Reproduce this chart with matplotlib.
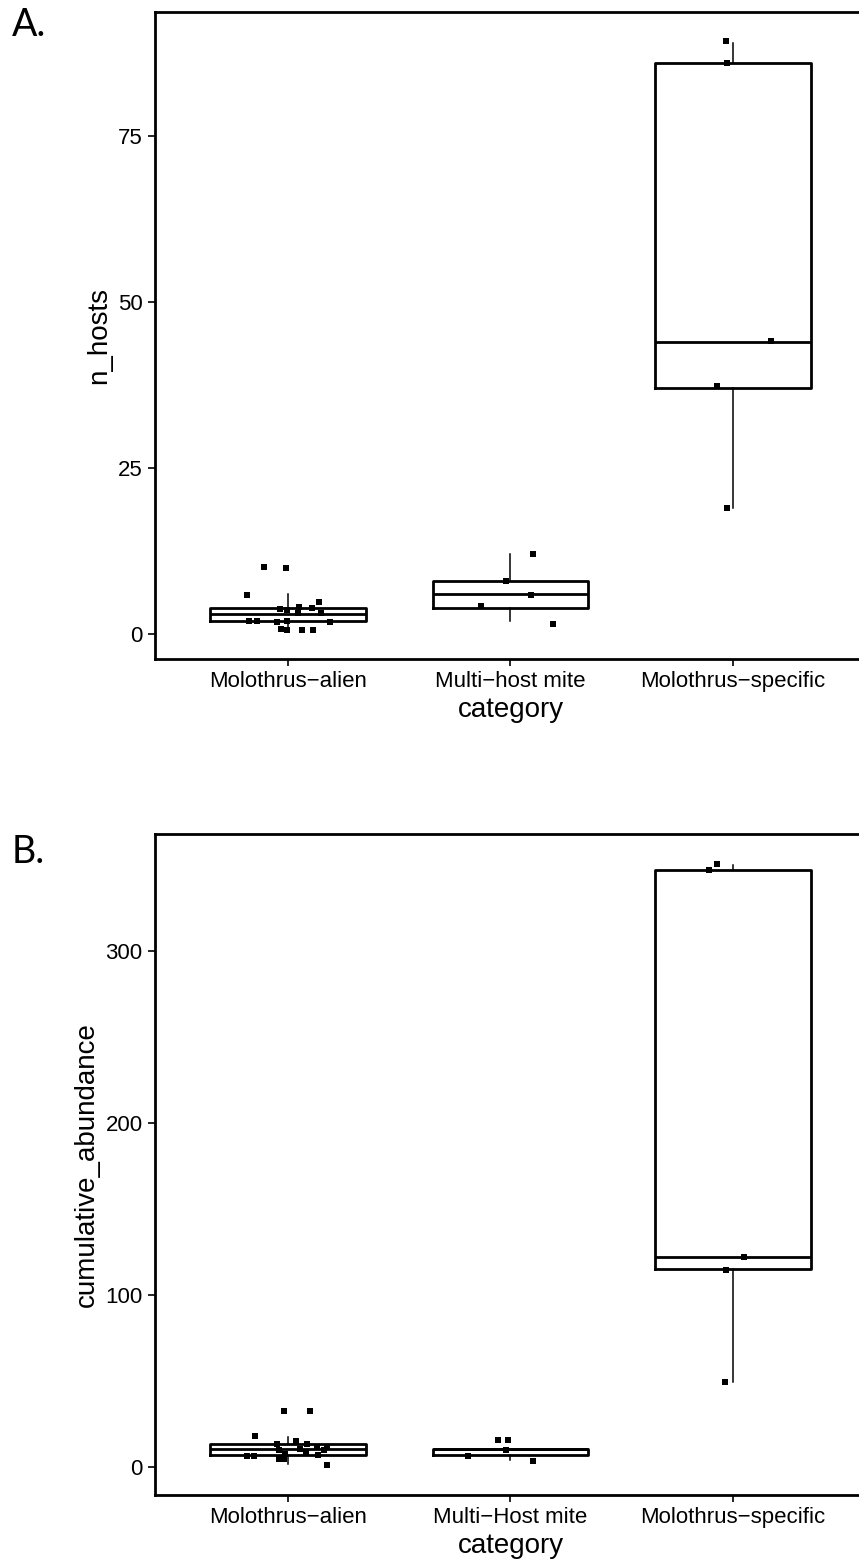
import matplotlib
matplotlib.use("Agg")
import matplotlib.pyplot as plt
import numpy as np

plt.rcParams['font.family'] = ['Liberation Sans', 'DejaVu Sans']

# category names (R draws the hyphen as a minus sign)
categories_a = ['Molothrus\u2212alien', 'Multi\u2212host mite', 'Molothrus\u2212specific']
categories_b = ['Molothrus\u2212alien', 'Multi\u2212Host mite', 'Molothrus\u2212specific']

# panel A: n_hosts, jittered points (value, horizontal jitter)
hosts_alien = [10.1, 9.9, 5.9, 3.8, 3.6, 4.1, 3.2, 3.9, 4.8, 3.2, 2.0, 2.0, 1.8, 2.0, 1.85, 0.86, 0.7, 0.7, 0.7]
hosts_alien_jit = [-0.108, -0.008, -0.186, -0.036, -0.003, 0.049, 0.044, 0.106, 0.139, 0.148,
                   -0.174, -0.14, -0.05, -0.003, 0.189, -0.03, -0.003, 0.064, 0.111]
hosts_multi = [12.1, 8.0, 5.9, 4.3, 1.6]
hosts_multi_jit = [0.1, -0.02, 0.092, -0.134, 0.19]
hosts_spec = [89.2, 85.9, 44.1, 37.3, 19.0]
hosts_spec_jit = [-0.033, -0.027, 0.173, -0.074, -0.027]

# panel A box statistics
hosts_whislo = [1, 2, 19]
hosts_q1 = [2, 4, 37]
hosts_med = [3, 6, 44]
hosts_q3 = [4, 8, 86]
hosts_whishi = [6, 12, 89]

# panel B: cumulative_abundance
abund_alien = [32.5, 32.5, 17.8, 13.2, 15.1, 13.4, 11.4, 11.4, 9.9, 10.3, 8.7, 9.5, 6.4, 6.4, 7.6, 6.8, 4.5, 4.6, 1.0]
abund_alien_jit = [-0.018, 0.099, -0.147, -0.048, 0.037, 0.087, 0.129, 0.177, -0.042, 0.054,
                   0.08, 0.16, -0.186, -0.153, -0.015, 0.137, -0.042, -0.018, 0.177]
abund_multi = [15.5, 15.5, 9.7, 6.4, 3.5]
abund_multi_jit = [-0.056, -0.013, -0.02, -0.192, 0.1]
abund_spec = [350.3, 346.8, 121.6, 114.5, 49.0]
abund_spec_jit = [-0.073, -0.109, 0.049, -0.03, -0.037]

# panel B box statistics
abund_whislo = [1.5, 4, 49]
abund_q1 = [6.5, 7, 115]
abund_med = [10, 10, 122]
abund_q3 = [13, 10, 347]
abund_whishi = [17.5, 10, 350]


def draw_panel(ax, cats, groups, jitters, whislo, q1, med, q3, whishi, ylabel, yticks):
    stats = []
    for i in range(len(cats)):
        stats.append(dict(whislo=whislo[i], q1=q1[i], med=med[i], q3=q3[i], whishi=whishi[i], label=cats[i]))
    pos = np.arange(1, len(cats) + 1)
    ax.bxp(stats, positions=pos, widths=0.7, showfliers=False, showcaps=False,
           boxprops=dict(color='black', linewidth=2.0),
           medianprops=dict(color='black', linewidth=2.0),
           whiskerprops=dict(color='black', linewidth=1.1))
    for i in range(len(cats)):
        xs = pos[i] + np.array(jitters[i])
        ax.scatter(xs, groups[i], marker='s', s=22, color='black', linewidths=0, zorder=3)

    ax.set_xlim(0.4, 3.6)
    ax.set_ymargin(0.05)
    ax.set_yticks(yticks)
    ax.set_xticks(pos)
    ax.set_xticklabels(cats)
    ax.tick_params(axis='both', direction='out', length=5, width=1.2, labelsize=16, colors='black')
    ax.set_ylabel(ylabel, fontsize=20)
    ax.set_xlabel('category', fontsize=20, labelpad=4)
    for sp in ax.spines.values():
        sp.set_linewidth(2.0)
        sp.set_color('black')


fig = plt.figure(figsize=(8.59, 15.66), dpi=100)
W, H = 859.0, 1566.0

ax_a = fig.add_axes([154.5 / W, 1 - 659 / H, 712 / W, 647 / H])
draw_panel(ax_a, categories_a,
           [hosts_alien, hosts_multi, hosts_spec],
           [hosts_alien_jit, hosts_multi_jit, hosts_spec_jit],
           hosts_whislo, hosts_q1, hosts_med, hosts_q3, hosts_whishi,
           'n_hosts', [0, 25, 50, 75])

ax_b = fig.add_axes([154.5 / W, 1 - 1495 / H, 712 / W, 661 / H])
draw_panel(ax_b, categories_b,
           [abund_alien, abund_multi, abund_spec],
           [abund_alien_jit, abund_multi_jit, abund_spec_jit],
           abund_whislo, abund_q1, abund_med, abund_q3, abund_whishi,
           'cumulative_abundance', [0, 100, 200, 300])

fig.text(12 / W, 1 - 25 / H, 'A.', fontsize=27, va='center', ha='left', family=['Lato', 'DejaVu Sans'])
fig.text(12 / W, 1 - 852 / H, 'B.', fontsize=27, va='center', ha='left', family=['Lato', 'DejaVu Sans'])

fig.savefig('out.png', dpi=100)
